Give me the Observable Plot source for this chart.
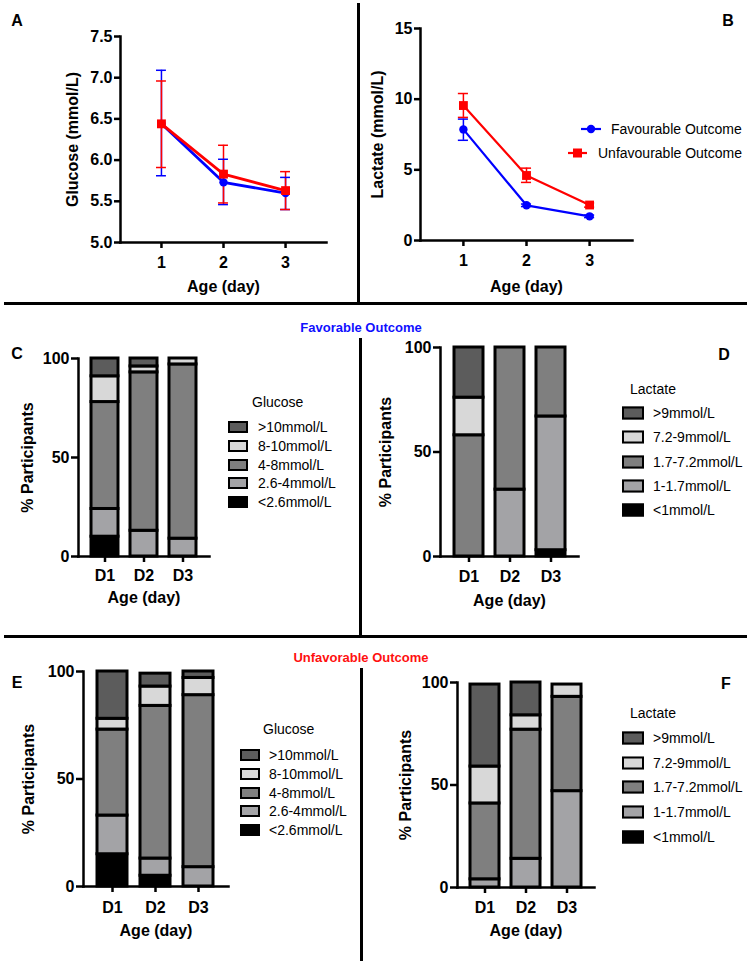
<!DOCTYPE html>
<html><head><meta charset="utf-8">
<script src="https://cdn.jsdelivr.net/npm/d3@7"></script>
<script src="https://cdn.jsdelivr.net/npm/@observablehq/plot@0.6"></script>
<style>
body{margin:0;background:#fff;}
#fig{position:relative;width:749px;height:964px;overflow:hidden;font-family:"Liberation Sans",Arial,sans-serif;color:#000;background:#fff;}
.lbl{position:absolute;transform:translate(-50%,-50%);white-space:nowrap;font-weight:bold;font-size:16px;line-height:1;}
.rule{position:absolute;background:#000;}
.leg{position:absolute;font-size:14px;font-weight:normal;white-space:nowrap;line-height:1;transform:translateY(-50%);}
.sw{position:absolute;box-sizing:border-box;border:2px solid #000;transform:translateY(-50%);}
</style></head><body><div id="fig"></div><script>
// ---------- data ----------
const days = [1, 2, 3];
const groups = ["Favourable Outcome", "Unfavourable Outcome"];
const seriesColors = ["#0000ff", "#ff0000"];

const glucoseFav = [6.44, 5.73, 5.60];
const glucoseFavLo = [5.81, 5.46, 5.40];
const glucoseFavHi = [7.09, 6.01, 5.79];
const glucoseUnfav = [6.44, 5.83, 5.63];
const glucoseUnfavLo = [5.91, 5.48, 5.40];
const glucoseUnfavHi = [6.96, 6.18, 5.86];

const lactateFav = [7.86, 2.49, 1.71];
const lactateFavLo = [7.09, 2.40, 1.62];
const lactateFavHi = [8.59, 2.58, 1.80];
const lactateUnfav = [9.55, 4.60, 2.51];
const lactateUnfavLo = [8.71, 4.11, 2.36];
const lactateUnfavHi = [10.40, 5.12, 2.66];

const glucoseTicks = [5.0, 5.5, 6.0, 6.5, 7.0, 7.5];
const lactateTicks = [0, 5, 10, 15];
const pctTicks = [0, 50, 100];

const dayLabels = ["D1", "D2", "D3"];
const glucoseBands = ["<2.6mmol/L", "2.6-4mmol/L", "4-8mmol/L", "8-10mmol/L", ">10mmol/L"];
const lactateBands = ["<1mmol/L", "1-1.7mmol/L", "1.7-7.2mmol/L", "7.2-9mmol/L", ">9mmol/L"];
const bandColors = ["#000000", "#a3a3a6", "#7f7f7f", "#d8d8d8", "#5c5c5c"];

// percentages: one row per band (bottom to top), one column per day D1..D3
const glucoseFavPct = [[10, 0, 0], [14, 13, 9], [54, 80, 88], [13, 3, 3], [9, 4, 0]];
const lactateFavPct = [[0, 0, 3], [0, 32, 64], [58, 68, 33], [18, 0, 0], [24, 0, 0]];
const glucoseUnfavPct = [[15, 5, 0], [18, 8, 9], [40, 71, 80], [5, 9, 8], [22, 6, 3]];
const lactateUnfavPct = [[0, 0, 0], [4, 14, 47], [37, 63, 46], [18, 7, 6], [40, 16, 0]];

// ---------- helpers ----------
const fig = document.getElementById("fig");
const font = `"Liberation Sans", Arial, sans-serif`;
const baseStyle = {fontFamily: font, fontSize: "16px", fontWeight: "bold", color: "#000", background: "transparent", overflow: "visible"};

function place(node, left, top) {
  node.style.position = "absolute";
  node.style.left = left + "px";
  node.style.top = top + "px";
  fig.appendChild(node);
}
function div(cls, text, css) {
  const d = document.createElement("div");
  d.className = cls;
  if (text != null) d.textContent = text;
  Object.assign(d.style, css);
  fig.appendChild(d);
  return d;
}

function lineChart(o) {
  const rows = [];
  groups.forEach((g, gi) => days.forEach((d, di) =>
    rows.push({group: g, day: d, v: o.values[gi][di], lo: o.lo[gi][di], hi: o.hi[gi][di]})));
  const cap = o.cap;
  return Plot.plot({
    width: o.width, height: o.height,
    marginLeft: o.ml, marginRight: o.mr, marginTop: o.mt, marginBottom: o.mb,
    style: baseStyle,
    x: {domain: o.xDomain},
    y: {domain: o.yDomain},
    color: {domain: groups, range: seriesColors},
    marks: [
      Plot.frame({anchor: "left", strokeWidth: 2.5, strokeLinecap: "square"}),
      Plot.frame({anchor: "bottom", strokeWidth: 2.5, strokeLinecap: "square"}),
      Plot.axisY({ticks: o.yTicks, tickFormat: o.fmt, tickSize: 6, tickPadding: 2, strokeWidth: 2.5, label: null}),
      Plot.axisX({ticks: days, tickFormat: d => String(d), tickSize: 6, tickPadding: 8, strokeWidth: 2.5, label: null}),
      Plot.ruleX(rows, {x: "day", y1: "lo", y2: "hi", stroke: "group", strokeWidth: 1.5}),
      Plot.ruleY(rows, {y: "hi", x1: d => d.day - cap, x2: d => d.day + cap, stroke: "group", strokeWidth: 1.5}),
      Plot.ruleY(rows, {y: "lo", x1: d => d.day - cap, x2: d => d.day + cap, stroke: "group", strokeWidth: 1.5}),
      Plot.line(rows, {x: "day", y: "v", z: "group", stroke: "group", strokeWidth: o.lw}),
      Plot.dot(rows.filter(r => r.group === groups[0]), {x: "day", y: "v", fill: "group", symbol: "circle", r: 4.2}),
      Plot.dot(rows.filter(r => r.group === groups[1]), {x: "day", y: "v", fill: "group", symbol: "square", r: 5}),
      Plot.text([o.yLabel], {text: d => d, frameAnchor: "left", textAnchor: "middle", rotate: -90, dx: o.ylx, fontSize: 16, fontWeight: "bold"}),
      Plot.text(["Age (day)"], {text: d => d, frameAnchor: "bottom", textAnchor: "middle", dy: o.xly, fontSize: 16, fontWeight: "bold"})
    ]
  });
}

function barChart(o) {
  const rows = [];
  o.bands.forEach((b, bi) => dayLabels.forEach((d, di) => {
    const v = o.pct[bi][di];
    if (v > 0) rows.push({band: b, day: d, value: v});
  }));
  return Plot.plot({
    width: o.width, height: o.height,
    marginLeft: o.ml, marginRight: o.mr, marginTop: o.mt, marginBottom: o.mb,
    style: baseStyle,
    x: {domain: dayLabels, paddingInner: 0.3, paddingOuter: 0.3},
    y: {domain: [0, 100]},
    color: {domain: o.bands, range: bandColors},
    marks: [
      Plot.barY(rows, {x: "day", y: "value", fill: "band", stroke: "#000", strokeWidth: 3}),
      Plot.frame({anchor: "left", strokeWidth: 2.5, strokeLinecap: "square"}),
      Plot.frame({anchor: "bottom", strokeWidth: 2.5, strokeLinecap: "square"}),
      Plot.axisY({ticks: pctTicks, tickSize: 7, tickPadding: 2, strokeWidth: 2.5, label: null}),
      Plot.axisX({tickSize: 6, tickPadding: o.xpad, strokeWidth: 2.5, label: null}),
      Plot.text(["% Participants"], {text: d => d, frameAnchor: "left", textAnchor: "middle", rotate: -90, dx: o.ylx, fontSize: 16, fontWeight: "bold"}),
      Plot.text(["Age (day)"], {text: d => d, frameAnchor: "bottom", textAnchor: "middle", dy: o.xly, fontSize: 16, fontWeight: "bold"})
    ]
  });
}

function barLegend(title, bands, L) {
  div("leg", title, {left: L.titleX + "px", top: L.titleY + "px"});
  const order = bands.map((b, i) => i).reverse();
  order.forEach((bi, k) => {
    const y = L.y0 + k * L.dy;
    div("sw", null, {left: L.swX + "px", top: y + "px", width: L.swW + "px", height: L.swH + "px", background: bandColors[bi]});
    div("leg", bands[bi], {left: L.textX + "px", top: y + "px"});
  });
}

// ---------- panels ----------
place(lineChart({
  values: [glucoseFav, glucoseUnfav], lo: [glucoseFavLo, glucoseUnfavLo], hi: [glucoseFavHi, glucoseUnfavHi],
  width: 358, height: 303, ml: 120, mr: 32, mt: 36, mb: 61,
  xDomain: [0.34, 3.66], yDomain: [5, 7.5], yTicks: glucoseTicks, fmt: d3.format(".1f"),
  yLabel: "Glucose (mmol/L)", ylx: -48, xly: 49, cap: 0.08, lw: 2.8
}), 0, 0);

place(lineChart({
  values: [lactateFav, lactateUnfav], lo: [lactateFavLo, lactateUnfavLo], hi: [lactateFavHi, lactateUnfavHi],
  width: 387, height: 303, ml: 58, mr: 117, mt: 28, mb: 63,
  xDomain: [0.32, 3.68], yDomain: [0, 15], yTicks: lactateTicks, fmt: d3.format("d"),
  yLabel: "Lactate (mmol/L)", ylx: -43, xly: 51, cap: 0.08, lw: 2.2
}), 362, 0);

place(barChart({pct: glucoseFavPct, bands: glucoseBands, width: 225, height: 300, ml: 78, mr: 16, mt: 38, mb: 64, ylx: -51, xly: 46, xpad: 7}), 0, 320);
place(barChart({pct: lactateFavPct, bands: lactateBands, width: 225, height: 300, ml: 75, mr: 12, mt: 27, mb: 64, ylx: -55, xly: 49, xpad: 8}), 365, 320);
place(barChart({pct: glucoseUnfavPct, bands: glucoseBands, width: 240, height: 314, ml: 83, mr: 12, mt: 21, mb: 78, ylx: -55, xly: 49, xpad: 9}), 0, 650);
place(barChart({pct: lactateUnfavPct, bands: lactateBands, width: 235, height: 314, ml: 92, mr: 6, mt: 32, mb: 77, ylx: -52, xly: 48, xpad: 8}), 365, 650);

// legend of panel B
function seriesLegendRow(gi, y, lineX0, lineX1, textX) {
  const svgNS = "http://www.w3.org/2000/svg";
  const s = document.createElementNS(svgNS, "svg");
  s.setAttribute("width", 30); s.setAttribute("height", 14);
  s.style.position = "absolute"; s.style.left = (lineX0 - 2) + "px"; s.style.top = (y - 7) + "px";
  const ln = document.createElementNS(svgNS, "line");
  ln.setAttribute("x1", 2); ln.setAttribute("x2", 2 + lineX1 - lineX0); ln.setAttribute("y1", 7); ln.setAttribute("y2", 7);
  ln.setAttribute("stroke", seriesColors[gi]); ln.setAttribute("stroke-width", 2.2);
  s.appendChild(ln);
  const cx = 2 + (lineX1 - lineX0) / 2;
  let m;
  if (gi === 0) { m = document.createElementNS(svgNS, "circle"); m.setAttribute("cx", cx); m.setAttribute("cy", 7); m.setAttribute("r", 4.2); }
  else { m = document.createElementNS(svgNS, "rect"); m.setAttribute("x", cx - 4.5); m.setAttribute("y", 2.5); m.setAttribute("width", 9); m.setAttribute("height", 9); }
  m.setAttribute("fill", seriesColors[gi]);
  s.appendChild(m);
  fig.appendChild(s);
  div("leg", groups[gi], {left: textX + "px", top: y + "px"});
}
seriesLegendRow(0, 129, 581, 601, 611);
seriesLegendRow(1, 153, 568, 587, 598);

// legends of bar panels
barLegend("Glucose", glucoseBands, {titleX: 252, titleY: 402, y0: 427, dy: 18.8, swX: 228, swW: 20, swH: 12, textX: 258});
barLegend("Lactate", lactateBands, {titleX: 630, titleY: 389, y0: 413, dy: 24.3, swX: 622, swW: 22, swH: 13, textX: 653});
barLegend("Glucose", glucoseBands, {titleX: 263, titleY: 729, y0: 755, dy: 18.8, swX: 240, swW: 20, swH: 12, textX: 269});
barLegend("Lactate", lactateBands, {titleX: 630, titleY: 713, y0: 738, dy: 24.7, swX: 622, swW: 22, swH: 13, textX: 653});

// separators
div("rule", null, {left: "357px", top: "3px", width: "3px", height: "300px"});
div("rule", null, {left: "4px", top: "302px", width: "743px", height: "3px"});
div("rule", null, {left: "359px", top: "338px", width: "3px", height: "298px"});
div("rule", null, {left: "4px", top: "635px", width: "743px", height: "3px"});
div("rule", null, {left: "360px", top: "668px", width: "3px", height: "293px"});

// section titles
div("lbl", "Favorable Outcome", {left: "361px", top: "327px", fontSize: "13px", color: "#1010ff"});
div("lbl", "Unfavorable Outcome", {left: "361px", top: "657px", fontSize: "13px", color: "#ff1010"});

// panel letters
[["A", 17, 21], ["B", 728, 21], ["C", 17, 354], ["D", 724, 355], ["E", 17, 683], ["F", 726, 684]]
  .forEach(([t, x, y]) => div("lbl", t, {left: x + "px", top: y + "px"}));
</script></body></html>
